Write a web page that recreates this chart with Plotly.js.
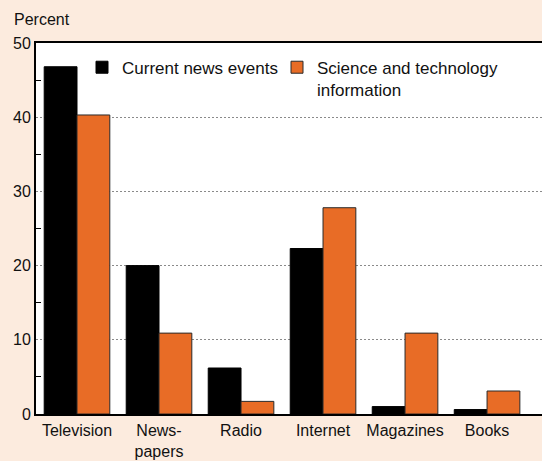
<!DOCTYPE html>
<html>
<head>
<meta charset="utf-8">
<script src="https://cdn.plot.ly/plotly-3.0.1.min.js"></script>
<style>
html,body{margin:0;padding:0;background:#FCEBDE;overflow:hidden;}
#chart{width:542px;height:461px;}
</style>
</head>
<body>
<div id="chart"></div>
<script>
const categories = ["Television", "News-<br>papers", "Radio", "Internet", "Magazines", "Books"];
const currentNews = [46.8, 20.0, 6.2, 22.3, 1.0, 0.6];
const sciTech = [40.3, 10.9, 1.7, 27.8, 10.9, 3.1];
const seriesNames = ["Current news events", "Science and technology<br>information"];
const yTicks = [0, 10, 20, 30, 40, 50];

const fam = "Liberation Sans, Arial, sans-serif";
const font16 = {family: fam, size: 16, color: "#111"};
const font17 = {family: fam, size: 17, color: "#111"};

const traces = [
  {type: "bar", name: seriesNames[0], x: categories, y: currentNews, legend: "legend",
   marker: {color: "#000000", line: {color: "#000000", width: 1}}},
  {type: "bar", name: seriesNames[1], x: categories, y: sciTech, legend: "legend2",
   marker: {color: "#E86C26", line: {color: "#2a2a2a", width: 1}}}
];

const legendBase = {
  orientation: "v", yanchor: "top", xanchor: "left", y: 0.982,
  bgcolor: "rgba(0,0,0,0)", font: font17, valign: "top", borderwidth: 0
};

const layout = {
  width: 542, height: 461,
  margin: {l: 36, r: 0, t: 43, b: 47, pad: 0},
  paper_bgcolor: "#FCEBDE",
  plot_bgcolor: "#FFFFFF",
  font: font16,
  barmode: "group",
  bargap: 0.2,
  bargroupgap: 0,
  showlegend: true,
  legend: Object.assign({}, legendBase, {x: (82 - 36) / 506}),
  legend2: Object.assign({}, legendBase, {x: (277 - 36) / 506}),
  xaxis: {
    type: "category", range: [-0.5, 5.67], showgrid: false,
    showline: true, linecolor: "#000", linewidth: 2, mirror: true,
    ticks: "", tickfont: font16, ticklabelstandoff: 1, fixedrange: true
  },
  yaxis: {
    range: [0, 50], tickvals: yTicks, ticks: "",
    showline: true, linecolor: "#000", linewidth: 2, mirror: false,
    showgrid: true, gridcolor: "#8a8a8a", griddash: "2px,2px", gridwidth: 1,
    zeroline: false, tickfont: font16,
    minor: {tick0: 5, dtick: 10, ticks: "inside", ticklen: 5, tickcolor: "#000", tickwidth: 1, showgrid: false}
  },
  annotations: [
    {text: "Percent", xref: "paper", yref: "paper", x: 0, y: 1, xanchor: "left", yanchor: "middle",
     xshift: -24, yshift: 24, showarrow: false, font: font16}
  ]
};

Plotly.newPlot("chart", traces, layout, {displayModeBar: false, staticPlot: true});
</script>
</body>
</html>
